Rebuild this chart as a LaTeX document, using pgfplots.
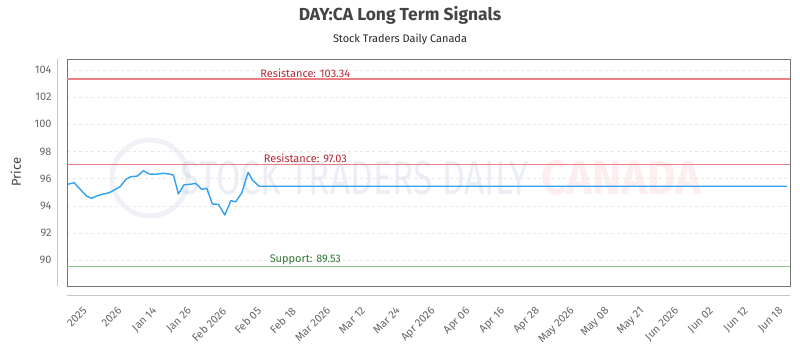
\documentclass[border=0pt]{standalone}
\usepackage{pgfplots}
\pgfplotsset{compat=1.18}
\usepackage{fontspec}
\setmainfont{Fira Sans}
\definecolor{linecol}{RGB}{51,160,240}
\definecolor{resline}{RGB}{232,128,132}
\definecolor{restext}{RGB}{176,40,52}
\definecolor{supline}{RGB}{140,200,140}
\definecolor{suptext}{RGB}{46,120,50}
\definecolor{txtgray}{RGB}{102,102,102}
\definecolor{titlegray}{RGB}{68,68,68}
\definecolor{wmblue}{RGB}{120,140,180}
\definecolor{wmred}{RGB}{240,120,130}
\begin{document}
\begin{tikzpicture}
\path[use as bounding box] (0bp,0bp) rectangle (800bp,350bp);
% title
\node[font=\fontsize{17.5}{19}\selectfont\bfseries, text=titlegray] at (400bp,335bp) {DAY:CA Long Term Signals};
\node[font=\fontsize{11}{13}\selectfont, text=black!85] at (400bp,311bp) {Stock Traders Daily Canada};
% y label
\node[font=\fontsize{13}{15}\selectfont, text=titlegray, rotate=90] at (16bp,178bp) {Price};
% watermark
\draw[wmblue, opacity=0.12, line width=5bp] (150bp,172bp) circle (38bp);
\node[font=\fontsize{48}{48}\selectfont, text=wmblue, opacity=0.15, xscale=0.74, anchor=west] at (178bp,172bp) {STOCK TRADERS DAILY};
\node[font=\fontsize{48}{48}\selectfont\bfseries, text=wmred, opacity=0.12, xscale=0.92, anchor=west] at (538bp,172bp) {CANADA};
% detached axis lines
\draw[black!22, line width=1bp] (57bp,64bp) -- (57bp,291bp);
\draw[black!22, line width=1bp] (67bp,54bp) -- (790bp,54bp);
\begin{axis}[
  at={(67bp,64bp)}, anchor=south west,
  width=723bp, height=227bp, scale only axis,
  xmin=-0.55, xmax=20.23, ymin=88.1, ymax=104.8,
  axis line style={black!55, line width=0.8bp},
  major tick length=0pt,
  ytick={90,92,...,104},
  ymajorgrids, grid style={black!9, dashed, line width=0.6bp},
  xtick={0,...,20},
  xticklabels={2025,2026,Jan 14,Jan 26,Feb 2026,Feb 05,Feb 18,Mar 2026,Mar 12,Mar 24,Apr 2026,Apr 06,Apr 16,Apr 28,May 2026,May 08,May 21,Jun 2026,Jun 02,Jun 12,Jun 18},
  tick label style={font=\fontsize{11}{13}\selectfont, text=txtgray},
  yticklabel style={anchor=east, xshift=-12bp},
  xticklabel style={xshift=-4bp, yshift=-20bp, rotate=45, anchor=north east, inner sep=0pt},
  /pgf/number format/assume math mode=true,
  clip=true,
]
\addplot[resline, line width=1.6bp] coordinates {(-0.55,103.34) (20.23,103.34)};
\addplot[resline, line width=1.6bp] coordinates {(-0.55,97.03) (20.23,97.03)};
\addplot[supline, line width=1.6bp] coordinates {(-0.55,89.53) (20.23,89.53)};
\node[font=\fontsize{11}{13}\selectfont, text=restext, anchor=south, inner sep=1.5bp] at (axis cs:6.3,103.34) {Resistance: 103.34};
\node[font=\fontsize{11}{13}\selectfont, text=restext, anchor=south, inner sep=1.5bp] at (axis cs:6.3,97.03) {Resistance: 97.03};
\node[font=\fontsize{11}{13}\selectfont, text=suptext, anchor=south, inner sep=1.5bp] at (axis cs:6.3,89.53) {Support: 89.53};
\addplot[linecol, line width=1.4bp, line join=round] coordinates {
(-0.537,95.58) (-0.345,95.70) (-0.152,95.16) (0.009,94.72) (0.152,94.55)
(0.325,94.74) (0.468,94.85) (0.661,94.96) (0.805,95.16) (0.977,95.40)
(1.141,95.95) (1.284,96.14) (1.474,96.19) (1.647,96.58) (1.810,96.34)
(2.003,96.32) (2.213,96.39) (2.385,96.34) (2.509,96.26) (2.652,94.87)
(2.816,95.55) (2.980,95.58) (3.152,95.65) (3.325,95.21) (3.468,95.29)
(3.629,94.13) (3.802,94.11) (3.986,93.32) (4.158,94.37) (4.302,94.30)
(4.474,94.96) (4.655,96.46) (4.779,95.90) (4.971,95.44) (20.14,95.44)
};
\end{axis}
\end{tikzpicture}
\end{document}
